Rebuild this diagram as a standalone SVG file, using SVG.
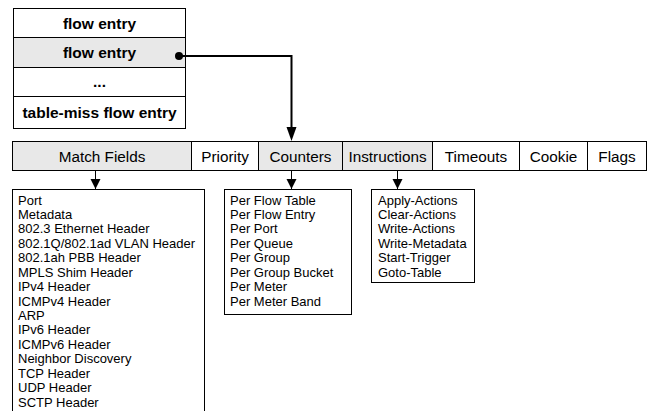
<svg xmlns="http://www.w3.org/2000/svg" width="654" height="411" viewBox="0 0 654 411">
<style>
.cell{stroke:#000;stroke-width:1;fill:#fff}
.g{fill:#e8e8e8}
.hd{font-family:"Liberation Sans",Arial,sans-serif;font-size:15.5px;font-weight:bold;text-anchor:middle}
.fl{font-family:"Liberation Sans",Arial,sans-serif;font-size:15.3px;text-anchor:middle}
.ls{font-family:"Liberation Sans",Arial,sans-serif;font-size:13px}
.ln{stroke:#000;fill:none}
</style>
<defs>
<marker id="sm" markerWidth="10" markerHeight="12" viewBox="0 0 10 12" refX="10" refY="6" orient="auto" markerUnits="userSpaceOnUse">
<path d="M0,1 L10,6 L0,11 Z" fill="#000"/>
</marker>
</defs>
<g id="flow-table">
<g id="row1"><rect class="cell" x="13.5" y="8.5" width="172" height="29"/><text class="hd" x="99.5" y="28.5">flow entry</text></g>
<g id="row2"><rect class="cell g" x="13.5" y="37.5" width="172" height="30"/><text class="hd" x="99.5" y="57.5">flow entry</text></g>
<g id="row3"><rect class="cell" x="13.5" y="67.5" width="172" height="29"/><text class="hd" x="99.5" y="87">...</text></g>
<g id="row4"><rect class="cell" x="13.5" y="96.5" width="172" height="32"/><text class="hd" x="99.5" y="118">table-miss flow entry</text></g>
</g>
<g id="fields">
<g id="match"><rect class="cell g" x="12.5" y="141.5" width="179" height="29"/><text class="fl" x="102" y="161.5">Match Fields</text></g>
<g id="priority"><rect class="cell" x="191.5" y="141.5" width="67" height="29"/><text class="fl" x="225" y="161.5">Priority</text></g>
<g id="counters"><rect class="cell g" x="258.5" y="141.5" width="84" height="29"/><text class="fl" x="300.5" y="161.5">Counters</text></g>
<g id="instructions"><rect class="cell g" x="342.5" y="141.5" width="90" height="29"/><text class="fl" x="387.5" y="161.5">Instructions</text></g>
<g id="timeouts"><rect class="cell" x="432.5" y="141.5" width="87" height="29"/><text class="fl" x="476" y="161.5">Timeouts</text></g>
<g id="cookie"><rect class="cell" x="519.5" y="141.5" width="68" height="29"/><text class="fl" x="553.5" y="161.5">Cookie</text></g>
<g id="flags"><rect class="cell" x="587.5" y="141.5" width="59" height="29"/><text class="fl" x="617" y="161.5">Flags</text></g>
</g>
<g id="match-list">
<rect class="cell" x="12.5" y="189.5" width="192" height="230"/>
<text class="ls">
<tspan x="18" y="204.5">Port</tspan>
<tspan x="18" y="218.9">Metadata</tspan>
<tspan x="18" y="233.4">802.3 Ethernet Header</tspan>
<tspan x="18" y="247.8">802.1Q/802.1ad VLAN Header</tspan>
<tspan x="18" y="262.2">802.1ah PBB Header</tspan>
<tspan x="18" y="276.6">MPLS Shim Header</tspan>
<tspan x="18" y="291.1">IPv4 Header</tspan>
<tspan x="18" y="305.5">ICMPv4 Header</tspan>
<tspan x="18" y="319.9">ARP</tspan>
<tspan x="18" y="334.4">IPv6 Header</tspan>
<tspan x="18" y="348.8">ICMPv6 Header</tspan>
<tspan x="18" y="363.2">Neighbor Discovery</tspan>
<tspan x="18" y="377.7">TCP Header</tspan>
<tspan x="18" y="392.1">UDP Header</tspan>
<tspan x="18" y="406.5">SCTP Header</tspan>
</text>
</g>
<g id="counter-list">
<rect class="cell" x="224.5" y="189.5" width="127" height="125"/>
<text class="ls">
<tspan x="230" y="204.5">Per Flow Table</tspan>
<tspan x="230" y="218.9">Per Flow Entry</tspan>
<tspan x="230" y="233.4">Per Port</tspan>
<tspan x="230" y="247.8">Per Queue</tspan>
<tspan x="230" y="262.2">Per Group</tspan>
<tspan x="230" y="276.6">Per Group Bucket</tspan>
<tspan x="230" y="291.1">Per Meter</tspan>
<tspan x="230" y="305.5">Per Meter Band</tspan>
</text>
</g>
<g id="instruction-list">
<rect class="cell" x="371.5" y="189.5" width="103" height="93"/>
<text class="ls">
<tspan x="378" y="204.5">Apply-Actions</tspan>
<tspan x="378" y="218.9">Clear-Actions</tspan>
<tspan x="378" y="233.4">Write-Actions</tspan>
<tspan x="378" y="247.8">Write-Metadata</tspan>
<tspan x="378" y="262.2">Start-Trigger</tspan>
<tspan x="378" y="276.6">Goto-Table</tspan>
</text>
</g>
<g id="connectors">
<circle cx="179" cy="56" r="4" fill="#000"/>
<path class="ln" stroke-width="2" d="M179,56 H291.5 V128"/>
<path d="M286.5,127 L296.5,127 L291.5,141 Z" fill="#000"/>
<path class="ln" d="M95.5,171 V189" marker-end="url(#sm)"/>
<path class="ln" d="M291.5,171 V189" marker-end="url(#sm)"/>
<path class="ln" d="M397.5,171 V189" marker-end="url(#sm)"/>
</g>
</svg>
